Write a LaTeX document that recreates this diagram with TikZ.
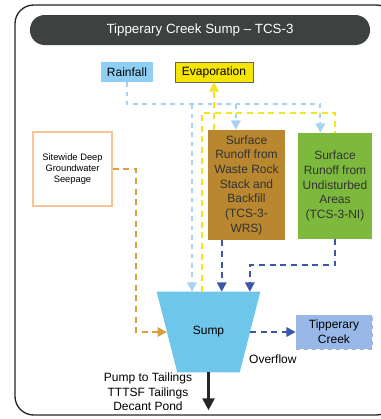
\documentclass[tikz,border=0pt]{standalone}
\usepackage{fontspec}
\setmainfont{Liberation Sans}
\usetikzlibrary{arrows.meta,positioning}
\definecolor{TitleGrey}{HTML}{3D413F}
\definecolor{RainBlue}{HTML}{8ECFF3}
\definecolor{EvapYellow}{HTML}{F6E500}
\definecolor{RockBrown}{HTML}{B8872F}
\definecolor{LeafGreen}{HTML}{7DB93C}
\definecolor{SumpBlue}{HTML}{6EC6EA}
\definecolor{CreekBlue}{HTML}{98B9E8}
\definecolor{SeepOrange}{HTML}{F4C596}
\definecolor{FlowOrange}{HTML}{D9A042}
\definecolor{FlowNavy}{HTML}{3C56A8}
\definecolor{FlowSky}{HTML}{A6D3F2}
\definecolor{FlowYellow}{HTML}{F2E61E}

\tikzset{
  srcbox/.style={inner sep=0pt, align=center, font=\fontsize{9}{11}\selectfont},
  flow/.style={line width=1.5pt, dash pattern=on 4.5pt off 3.5pt},
  tip/.style={-{Triangle[length=7pt,width=7pt]}},
  skyflow/.style={flow, FlowSky, dash pattern=on 3.5pt off 3.5pt},
  yellowflow/.style={flow, FlowYellow},
  navyflow/.style={flow, FlowNavy},
  orangeflow/.style={flow, FlowOrange},
}

\begin{document}
\begin{tikzpicture}[x=0.75pt, y=-0.75pt]
  \useasboundingbox (0,0) rectangle (380,419);
  % frame and title
  \draw[line width=1pt, black!85, rounded corners=14pt] (15,5) rectangle (395,415);
  \node[fill=TitleGrey, rounded corners=11pt, minimum width=255pt, minimum height=22.5pt,
        text=white, font=\fontsize{10}{12}\selectfont] (title) at (200,30) {Tipperary Creek Sump -- TCS-3};

  % sources
  \node[srcbox, fill=RainBlue, minimum width=39pt, minimum height=15pt] (rain) at (127,72) {Rainfall};
  \node[srcbox, fill=EvapYellow, draw=black!60, line width=0.4pt, minimum width=58.5pt, minimum height=15pt] (evap) at (214,72) {Evaporation};
  \node[srcbox, fill=RockBrown, text=black!80, minimum width=57.75pt, minimum height=82.5pt] (wrs) at (246.5,185)
    {Surface\\Runoff from\\Waste Rock\\Stack and\\Backfill\\(TCS-3-\\WRS)};
  \node[srcbox, fill=LeafGreen, text=black!80, minimum width=55.5pt, minimum height=79.5pt] (undist) at (335,186)
    {Surface\\Runoff from\\Undisturbed\\Areas\\(TCS-3-NI)};
  \node[srcbox, draw=SeepOrange, line width=0.8pt, fill=white, minimum width=59.25pt, minimum height=55.5pt,
        font=\fontsize{7}{8.5}\selectfont] (seep) at (72.5,169) {Sitewide Deep\\Groundwater\\Seepage};

  % sump (tapered tank) and outlets
  \node[inner sep=0pt, minimum width=61.9pt, minimum height=60pt] (sump) at (208.5,332) {};
  \fill[SumpBlue] ([xshift=-7.7pt]sump.north west) -- ([xshift=7.7pt]sump.north east)
    -- ([xshift=-7.7pt]sump.south east) -- ([xshift=7.7pt]sump.south west) -- cycle;
  \node[srcbox] (sumplabel) at (sump) {Sump};
  \node[srcbox, fill=CreekBlue, draw=FlowNavy!45, dashed, minimum width=57pt, minimum height=25.5pt] (creek) at (334,332)
    {Tipperary\\Creek};
  \node[srcbox] (pump) at (148,392) {Pump to Tailings\\TTTSF Tailings\\Decant Pond};

  % helper points
  \coordinate (wrsin) at ([xshift=-8pt]wrs.north);
  \coordinate (undistin) at ([xshift=-11pt]undist.north);
  \coordinate (sumpsky) at ([xshift=-12.4pt]sump.north);
  \coordinate (sumpup) at ([xshift=-4.9pt]sump.north);
  \coordinate (evapout) at (evap.south |- wrs.north);
  \coordinate (wrsout) at ([xshift=10.5pt]wrs.south west);
  \coordinate (sumpin) at ([xshift=31pt]sump.north);

  % rainfall
  \draw[skyflow, tip] (rain.south) -- ++(0,22) coordinate (rsplit) -| (undistin);
  \draw[skyflow, tip] (rsplit -| wrsin) -- (wrsin);
  \draw[skyflow, tip] (rsplit -| sumpsky) -- (sumpsky);

  % evaporation
  \draw[yellowflow, tip] (evapout) -- (evap.south);
  \draw[yellowflow] (sumpup) -- ++(0,-179) -| (undist.north);

  % runoff
  \draw[navyflow, tip] (wrsout) -- (wrsout |- sump.north);
  \draw[navyflow, tip] (undist.south) -- ++(0,26) -| (sumpin);

  % seepage
  \draw[orangeflow, tip] (seep.east) -- ++(23,0) |- (sump.west);

  % outflows
  \draw[navyflow, tip] (sump.east) -- (creek.west)
    node[srcbox, text=black, midway, below=16pt] (overflow) {Overflow};
  \draw[line width=2pt, black!85, -{Triangle[length=9pt,width=9pt]}] (sump.south) -- ++(0,38);
\end{tikzpicture}
\end{document}
